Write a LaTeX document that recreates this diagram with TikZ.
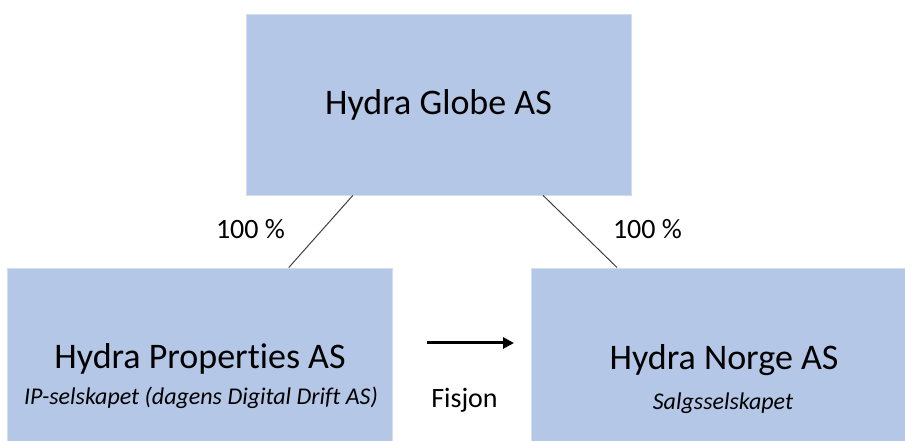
\documentclass[tikz,border=0pt]{standalone}
\usepackage{fontspec}
\setmainfont{Carlito}[Ligatures=NoCommon]
\usetikzlibrary{calc,arrows.meta,positioning}
\definecolor{boxblue}{HTML}{B4C7E7}
\definecolor{linjegraa}{HTML}{404040}

\tikzset{
  selskap/.style={rectangle, fill=boxblue, draw=boxblue!60!white, line width=0.8pt,
    minimum width=385pt, minimum height=181pt, inner sep=0pt},
  navn/.style={anchor=base, font=\fontsize{36}{40}\selectfont},
  rolle/.style={anchor=base, font=\fontsize{24}{28}\selectfont\itshape},
  andel/.style={anchor=base, font=\fontsize{28}{32}\selectfont},
  eierlinje/.style={draw=linjegraa, line width=1pt},
  fisjonpil/.style={line width=3pt, -{Triangle[length=11pt,width=11pt]}}
}

\begin{document}
\begin{tikzpicture}[x=1pt,y=1pt]
  \useasboundingbox (0,0) rectangle (905,441);
  \clip (0,0) rectangle (905,441);

  % selskapene
  \node[selskap] (globe) at (438.5,336.5) {};
  \node[selskap] (properties) at (200,82.5) {};
  \node[selskap] (norge) at (724,82.5) {};

  \node[navn] (globenavn) at (438.5,326) {Hydra Globe AS};
  \node[navn] (propertiesnavn) at (200,72) {Hydra Properties AS};
  \node[rolle] (propertiesrolle) at (201,36) {IP-selskapet (dagens Digital Drift AS)};
  \node[navn] (norgenavn) at (724,71) {Hydra Norge AS};
  \node[rolle] (norgerolle) at (723,31) {Salgsselskapet};

  % eierskap
  \draw[eierlinje] ($(globe.south west)!0.278!(globe.south east)$)
    -- ($(properties.north west)!0.73!(properties.north east)$);
  \draw[eierlinje] ($(globe.south west)!0.771!(globe.south east)$)
    -- ($(norge.north west)!0.223!(norge.north east)$);
  \node[andel] (andelvenstre) at (250.5,202) {100 \%};
  \node[andel] (andelhoyre) at (647.5,202) {100 \%};

  % fisjon
  \coordinate (pilstart) at (427,98);
  \coordinate (pilslutt) at (514,98);
  \draw[fisjonpil] (pilstart) -- (pilslutt);
  \node[andel] (fisjon) at (464.5,33) {Fisjon};
\end{tikzpicture}
\end{document}
